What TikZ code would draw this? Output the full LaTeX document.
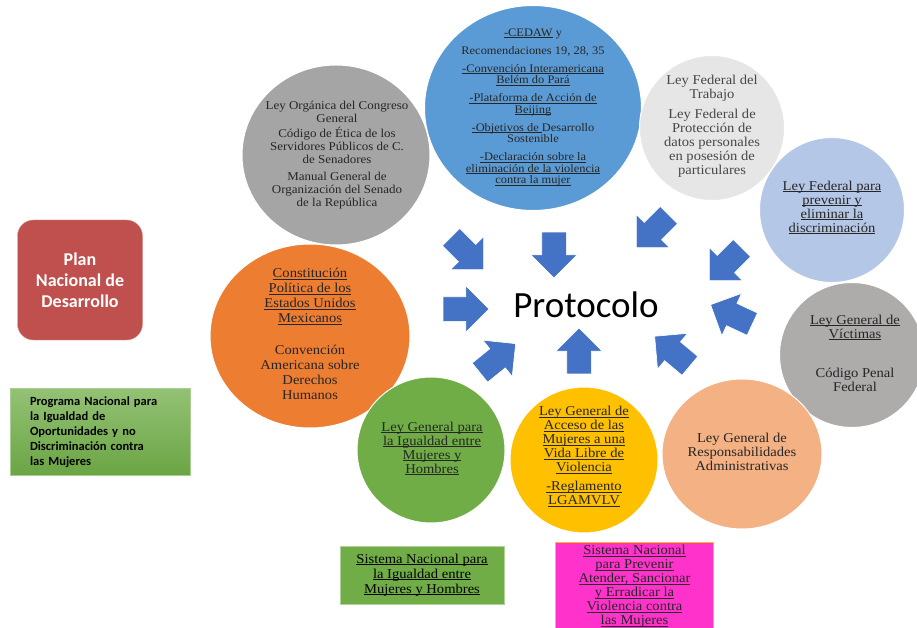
\documentclass[tikz,border=0pt]{standalone}
\usepackage{fontspec}
\setmainfont{Liberation Serif}[FakeStretch=1.08]
\newfontfamily\calibri{Carlito}
\usetikzlibrary{shapes.geometric,shapes.arrows,positioning}

\definecolor{cedawblue}{HTML}{5B9BD5}
\definecolor{midgray}{HTML}{A5A5A5}
\definecolor{palegray}{HTML}{E7E6E6}
\definecolor{paleblue}{HTML}{B4C7E7}
\definecolor{warmgray}{HTML}{AEABAB}
\definecolor{peach}{HTML}{F4B183}
\definecolor{gold}{HTML}{FFC000}
\definecolor{leafgreen}{HTML}{70AD47}
\definecolor{carrot}{HTML}{ED7D31}
\definecolor{brickred}{HTML}{C0504D}
\definecolor{arrowblue}{HTML}{4472C4}
\definecolor{pinkbox}{HTML}{FF33CC}

\newcommand{\lnk}[1]{\underline{\smash{#1}}\vphantom{(}}

\tikzset{
  pr/disc/.style={ellipse, draw=white, line width=1pt, inner sep=0pt},
  pr/label/.style={align=center, inner sep=0pt, text=black!85, font=\fontsize{13.5}{14}\selectfont},
  pr/plan/.style={draw=brickred!60, fill=brickred, rounded corners=16pt, minimum width=125pt, minimum height=120pt, align=center, text=white, font=\calibri\bfseries\fontsize{18}{21}\selectfont},
  pr/program/.style={draw=leafgreen!60, top color=leafgreen!75, bottom color=leafgreen!95!black, minimum width=180pt, minimum height=87pt, text width=140pt, align=left, font=\calibri\bfseries\fontsize{12.5}{15}\selectfont},
  pr/system/.style={draw=leafgreen!55, fill=leafgreen, minimum width=164pt, minimum height=58pt, align=center, font=\fontsize{13.5}{15}\selectfont},
  pr/arrow/.style={single arrow, fill=arrowblue, draw=white, line width=0.6pt, inner xsep=0pt, inner ysep=12pt, minimum height=46pt, single arrow head extend=11pt}
}

\begin{document}
\begin{tikzpicture}[x=1pt, y=-1pt]
  \useasboundingbox (0,0) rectangle (917,628);
  \clip (0,0) rectangle (917,628);

  % Left column
  \node[pr/plan] (plan) at (80,280) {Plan\\Nacional de\\Desarrollo};
  \node[pr/program] (program) at (100,432) {Programa Nacional para\\la Igualdad de\\Oportunidades y no\\Discriminación contra\\las Mujeres};

  % Discs round the protocol
  \node[pr/disc, fill=midgray, minimum width=188pt, minimum height=180pt] (organica) at (336,155) {};
  \node[pr/label, font=\fontsize{12}{13}\selectfont] (organica-t) at (337,155) {Ley Orgánica del Congreso\\General\\[2pt]
    Código de Ética de los\\Servidores Públicos de C.\\de Senadores\\[4pt]
    Manual General de\\Organización del Senado\\de la República};

  \node[pr/disc, fill=cedawblue, minimum width=217pt, minimum height=205pt] (cedaw) at (533,108) {};
  \node[pr/label, font=\fontsize{11.5}{11.5}\selectfont] (cedaw-t) at (533,107) {\lnk{-CEDAW} y\\[6.5pt]
    Recomendaciones 19, 28, 35\\[6.5pt]
    \lnk{-Convención Interamericana}\\\lnk{Belém do Pará}\\[6.5pt]
    \lnk{-Plataforma de Acción de}\\\lnk{Beijing}\\[6.5pt]
    \lnk{-Objetivos de }Desarrollo\\Sostenible\\[6.5pt]
    \lnk{-Declaración sobre la}\\\lnk{eliminación de la violencia}\\\lnk{contra la mujer}};

  \node[pr/disc, fill=palegray, minimum width=145pt, minimum height=145pt] (trabajo) at (712,128) {};
  \node[pr/label, text=black!72] (trabajo-t) at (712,126) {Ley Federal del\\Trabajo\\[6pt]
    Ley Federal de\\Protección de\\datos personales\\en posesión de\\particulares};

  \node[pr/disc, fill=paleblue, minimum width=145pt, minimum height=145pt] (discrim) at (832,210) {};
  \node[pr/label] (discrim-t) at (832,208) {\lnk{Ley Federal para}\\\lnk{prevenir y}\\\lnk{eliminar la}\\\lnk{discriminación}};

  \node[pr/disc, fill=warmgray, minimum width=145pt, minimum height=145pt] (victimas) at (852,355) {};
  \node[pr/label] (victimas-t) at (855,353) {\lnk{Ley General de}\\\lnk{Víctimas}\\[25pt]
    Código Penal\\Federal};

  \node[pr/disc, fill=peach, minimum width=160pt, minimum height=150pt] (respons) at (742,454) {};
  \node[pr/label] (respons-t) at (742,452) {Ley General de\\Responsabilidades\\Administrativas};

  \node[pr/disc, fill=gold, minimum width=148pt, minimum height=146pt] (acceso) at (584,460) {};
  \node[pr/label] (acceso-t) at (584,457) {\lnk{Ley General de}\\\lnk{Acceso de las}\\\lnk{Mujeres a una}\\\lnk{Vida Libre de}\\\lnk{Violencia}\\[5pt]
    \lnk{-Reglamento}\\\lnk{LGAMVLV}};

  \node[pr/disc, fill=carrot, minimum width=200pt, minimum height=184pt] (constit) at (310,336) {};
  \node[pr/label, font=\fontsize{13.5}{15}\selectfont] (constit-t) at (310,334) {\lnk{Constitución}\\\lnk{Política de los}\\\lnk{Estados Unidos}\\\lnk{Mexicanos}\\[17pt]
    Convención\\Americana sobre\\Derechos\\Humanos};

  \node[pr/disc, fill=leafgreen, minimum width=148pt, minimum height=146pt] (igualdad) at (431,450) {};
  \node[pr/label] (igualdad-t) at (432,449) {\lnk{Ley General para}\\\lnk{la Igualdad entre}\\\lnk{Mujeres y}\\\lnk{Hombres}};

  % Centre
  \node[font=\calibri\fontsize{37}{40}\selectfont] (protocolo) at (586,305) {Protocolo};

  % Block arrows pointing to the centre
  \foreach \px/\py/\ang [count=\i] in {463/249/-45, 554/249/-90, 657/227/225, 730/260/225,
      737/317/155, 677/355/140, 579/357/90, 493/362/39, 460/309/0}
    \node[pr/arrow, rotate=\ang] (arr\i) at (\px,\py) {};

  % Bottom systems
  \node[pr/system] (sistema) at (422,575) {\lnk{Sistema Nacional para}\\\lnk{la Igualdad entre}\\\lnk{Mujeres y Hombres}};
  \node[draw=gold, line width=1pt, fill=pinkbox, minimum width=158pt, minimum height=100pt, anchor=north west] (prevenir) at (555,542) {};
  \node[pr/label, anchor=north] (prevenir-t) at ([yshift=-3pt]prevenir.north) {\lnk{Sistema Nacional}\\\lnk{para Prevenir}\\\lnk{Atender, Sancionar}\\\lnk{y Erradicar la}\\\lnk{Violencia contra}\\\lnk{las Mujeres}};
\end{tikzpicture}
\end{document}
